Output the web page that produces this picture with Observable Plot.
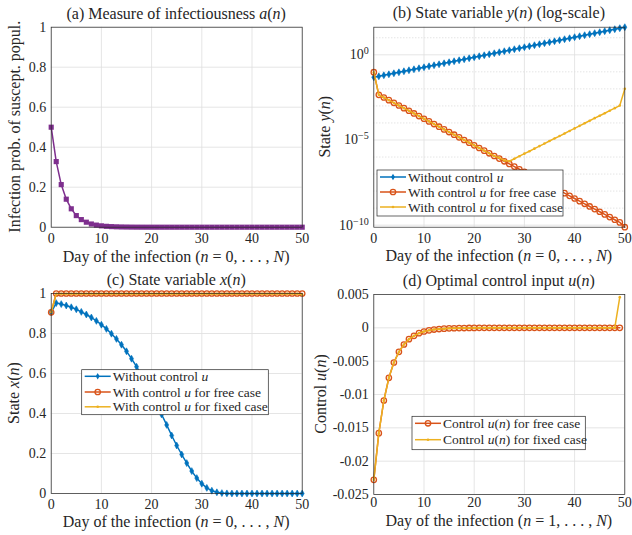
<!DOCTYPE html>
<html>
<head>
<meta charset="utf-8">
<script src="https://cdn.jsdelivr.net/npm/d3@7"></script>
<script src="https://cdn.jsdelivr.net/npm/@observablehq/plot@0.6"></script>
<style>
  body { margin: 0; background: #fff; }
  #wrap { position: relative; width: 632px; height: 535px; overflow: hidden; }
  .panel { position: absolute; }
</style>
</head>
<body>
<div id="wrap"></div>
<script>
// ---------------- data ----------------
const days = [0,1,2,3,4,5,6,7,8,9,10,11,12,13,14,15,16,17,18,19,20,21,22,23,24,25,26,27,28,29,30,31,32,33,34,35,36,37,38,39,40,41,42,43,44,45,46,47,48,49,50];

const infectiousness = [0.5,0.328,0.213,0.14,0.092,0.058,0.038,0.025,0.016,0.0105,
  0.0068,0.0044,0.0029,0.0019,0.0012,0.0008,0.0005,0.0003,0.0002,0.00013,
  0.00009,0.00006,0.00004,0.00003,0.00002,0.00001,0,0,0,0,
  0,0,0,0,0,0,0,0,0,0,
  0,0,0,0,0,0,0,0,0,0,
  0];

const yNoControl = [0.0479,0.0548,0.0628,0.0718,0.0822,0.0942,0.108,0.1236,0.1413,0.162,
  0.1854,0.212,0.243,0.278,0.318,0.365,0.418,0.478,0.547,0.627,
  0.718,0.822,0.941,1.077,1.233,1.413,1.618,1.853,2.12,2.43,
  2.78,3.18,3.65,4.17,4.78,5.47,6.26,7.17,8.21,9.40,
  10.8,12.3,14.1,16.2,18.5,21.2,24.3,27.8,31.8,36.4,
  41.7];

const yFree = [9.55e-2,4.47e-3,3.12e-3,2.18e-3,1.52e-3,1.06e-3,7.41e-4,5.18e-4,3.61e-4,2.52e-4,
  1.76e-4,1.23e-4,8.59e-5,6.00e-5,4.19e-5,2.92e-5,2.04e-5,1.43e-5,9.95e-6,6.95e-6,
  4.85e-6,3.39e-6,2.37e-6,1.65e-6,1.15e-6,8.05e-7,5.62e-7,3.93e-7,2.74e-7,1.91e-7,
  1.34e-7,9.33e-8,6.52e-8,4.55e-8,3.18e-8,2.22e-8,1.55e-8,1.08e-8,7.55e-9,5.27e-9,
  3.68e-9,2.57e-9,1.79e-9,1.25e-9,8.75e-10,6.11e-10,4.27e-10,2.98e-10,2.08e-10,1.45e-10,
  7.59e-11];

const yFixed = [9.55e-2,4.47e-3,3.12e-3,2.18e-3,1.52e-3,1.06e-3,7.41e-4,5.18e-4,3.61e-4,2.52e-4,
  1.76e-4,1.23e-4,8.59e-5,6.00e-5,4.19e-5,2.92e-5,2.04e-5,1.43e-5,9.95e-6,6.95e-6,
  4.85e-6,3.39e-6,2.37e-6,1.65e-6,1.15e-6,8.91e-7,6.31e-7,5.62e-7,7.94e-7,1.12e-6,
  1.58e-6,2.19e-6,3.09e-6,4.37e-6,6.17e-6,8.71e-6,1.23e-5,1.70e-5,2.40e-5,3.39e-5,
  4.79e-5,6.76e-5,9.55e-5,1.35e-4,1.91e-4,2.63e-4,3.72e-4,5.25e-4,7.41e-4,1.05e-3,
  1.0e-2];

const xNoControl = [0.906,0.952,0.947,0.94,0.931,0.921,0.908,0.895,0.88,0.863,
  0.844,0.823,0.799,0.773,0.744,0.711,0.674,0.634,0.591,0.545,
  0.497,0.447,0.395,0.343,0.29,0.24,0.195,0.152,0.112,0.077,
  0.049,0.028,0.014,0.006,0.002,0.0005,0,0,0,0,
  0,0,0,0,0,0,0,0,0,0,
  0];

const xFree = [0.906,1,1,1,1,1,1,1,1,1,
  1,1,1,1,1,1,1,1,1,1,
  1,1,1,1,1,1,1,1,1,1,
  1,1,1,1,1,1,1,1,1,1,
  1,1,1,1,1,1,1,1,1,1,
  1];

const xFixed = [0.906,0.999,0.999,0.999,0.999,0.999,0.999,0.999,0.999,0.999,
  0.999,0.999,0.999,0.999,0.999,0.999,0.999,0.999,0.999,0.999,
  0.999,0.999,0.999,0.999,0.999,0.999,0.999,0.999,0.999,0.999,
  0.999,0.999,0.999,0.999,0.999,0.999,0.999,0.999,0.999,0.999,
  0.999,0.999,0.999,0.999,0.999,0.999,0.999,0.999,0.999,0.999,
  0.995];

const uDays = [0,1,2,3,4,5,6,7,8,9,10,11,12,13,14,15,16,17,18,19,20,21,22,23,24,25,26,27,28,29,30,31,32,33,34,35,36,37,38,39,40,41,42,43,44,45,46,47,48,49];

const uFree = [-0.0228,-0.0158,-0.0109,-0.0075,-0.0052,-0.0036,-0.0025,-0.0017,-0.0012,-0.0008,
  -0.00055,-0.00038,-0.00026,-0.00018,-0.00012,-0.00008,-0.00006,-0.00004,-0.00003,-0.00002,
  -0.00001,0,0,0,0,0,0,0,0,0,
  0,0,0,0,0,0,0,0,0,0,
  0,0,0,0,0,0,0,0,0,0];

const uFixed = [-0.0228,-0.0158,-0.0109,-0.0075,-0.0052,-0.0036,-0.0025,-0.0017,-0.0012,-0.0008,
  -0.00055,-0.00038,-0.00026,-0.00018,-0.00012,-0.00008,-0.00006,-0.00004,-0.00003,-0.00002,
  -0.00001,0,0,0,0,0,0,0,0,0,
  0,0,0,0,0,0,0,0,0,0,
  0,0,0,0,0,0,0,0,0,0.0046];

// ticks & labels
const dayTicks = [0,10,20,30,40,50];
const unitTicks = [0,0.2,0.4,0.6,0.8,1];
const logTicks = [1e-10,1e-5,1];
const logTickLabels = ["10^\u221210","10^\u22125","10^0"];
const logMinor = [1e-9,1e-8,1e-7,1e-6,1e-4,1e-3,1e-2,1e-1,10];
const uTicks = [-0.025,-0.02,-0.015,-0.01,-0.005,0,0.005];

const titles = ["(a) Measure of infectiousness *a*(*n*)", "(b) State variable *y*(*n*) (log-scale)",
                "(c) State variable *x*(*n*)", "(d) Optimal control input *u*(*n*)"];
const xLabelA = "Day of the infection (*n* = 0, . . . , *N*)";
const xLabelD = "Day of the infection (*n* = 1, . . . , *N*)";
const yLabels = ["Infection prob. of suscept. popul.", "State *y*(*n*)", "State *x*(*n*)", "Control *u*(*n*)"];
const stateLegend = ["Without control *u*", "With control *u* for free case", "With control *u* for fixed case"];
const controlLegend = ["Control *u*(*n*) for free case", "Control *u*(*n*) for fixed case"];

// ---------------- style ----------------
const FONT = "'Liberation Serif', 'DejaVu Serif', serif";
const INK = "#262626";
const GRID = "#dedede";
const C = {purple: "#7E2F8E", blue: "#0072BD", orange: "#D95319", yellow: "#EDB120"};
const W = 316, H = 267;

// tables built from arrays
const tA = days.map((n, i) => ({n, v: infectiousness[i]}));
const tYb = days.map((n, i) => ({n, v: yNoControl[i]}));
const tYf = days.map((n, i) => ({n, v: yFree[i]}));
const tYx = days.map((n, i) => ({n, v: yFixed[i]}));
const tXb = days.map((n, i) => ({n, v: xNoControl[i]}));
const tXf = days.map((n, i) => ({n, v: xFree[i]}));
const tXx = days.map((n, i) => ({n, v: xFixed[i]}));
const tUf = uDays.map((n, i) => ({n, v: uFree[i]}));
const tUx = uDays.map((n, i) => ({n, v: uFixed[i]}));

function rich(t, str) {
  t.text(null);
  str.split("*").forEach((seg, i) => {
    if (seg) t.append("tspan").attr("font-style", i % 2 ? "italic" : null).text(seg);
  });
}

function addText(svg, x, y, str, size, rotate) {
  const t = d3.select(svg).append("text")
    .attr("x", x).attr("y", y)
    .attr("text-anchor", "middle")
    .attr("font-family", FONT).attr("font-size", size)
    .attr("fill", INK);
  if (rotate) t.attr("transform", `rotate(-90,${x},${y})`);
  rich(t, str);
}

const series = {
  blue:   {color: C.blue,   kind: "diamond"},
  orange: {color: C.orange, kind: "circle"},
  yellow: {color: C.yellow, kind: "dot"}
};

function markFor(tbl, s) {
  const out = [Plot.line(tbl, {x: "n", y: "v", stroke: s.color, strokeWidth: 1.5})];
  if (s.kind === "diamond") out.push(Plot.dot(tbl, {x: "n", y: "v", symbol: "diamond", r: 2.1, fill: s.color, stroke: s.color, strokeWidth: 0.6}));
  if (s.kind === "circle") out.push(Plot.dot(tbl, {x: "n", y: "v", symbol: "circle", r: 2.7, fill: "none", stroke: s.color, strokeWidth: 1.3}));
  if (s.kind === "dot") out.push(Plot.dot(tbl, {x: "n", y: "v", r: 1.3, fill: s.color, stroke: "none"}));
  if (s.kind === "square") out.push(Plot.dot(tbl, {x: "n", y: "v", symbol: "square", r: 2.9, fill: s.color, stroke: "none"}));
  return out;
}

function legend(svg, x, y, w, h, rows, rowYs, size) {
  const g = d3.select(svg).append("g").attr("text-anchor", "start");
  g.append("rect").attr("x", x).attr("y", y).attr("width", w).attr("height", h)
    .attr("fill", "#fff").attr("stroke", INK).attr("stroke-width", 0.7);
  rows.forEach((r, i) => {
    const yy = rowYs[i];
    g.append("line").attr("x1", x + 3).attr("x2", x + 29).attr("y1", yy).attr("y2", yy)
      .attr("stroke", r.s.color).attr("stroke-width", 1.5);
    const cx = x + 16;
    if (r.s.kind === "diamond") g.append("path").attr("d", `M${cx},${yy-3.3}L${cx+1.9},${yy}L${cx},${yy+3.3}L${cx-1.9},${yy}Z`).attr("fill", r.s.color);
    if (r.s.kind === "circle") g.append("circle").attr("cx", cx).attr("cy", yy).attr("r", 2.7).attr("fill", "none").attr("stroke", r.s.color).attr("stroke-width", 1.3);
    if (r.s.kind === "dot") g.append("circle").attr("cx", cx).attr("cy", yy).attr("r", 1.3).attr("fill", r.s.color);
    const t = g.append("text").attr("x", x + 31).attr("y", yy + 4.5)
      .attr("text-anchor", "start")
      .attr("font-family", FONT).attr("font-size", size).attr("fill", INK);
    rich(t, r.label);
  });
}

function panel({left, top, m, yScale, yTicks, yFmt, minor, marks, title, titleY, xLabel, xLabelY, yLabel, yLabelX, xPad}) {
  const [mT, mR, mB, mL] = m;
  const plot = Plot.plot({
    width: W, height: H,
    marginTop: mT, marginRight: mR, marginBottom: mB, marginLeft: mL,
    style: {fontFamily: FONT, fontSize: "14px", color: INK, background: "transparent", overflow: "visible"},
    x: {domain: [0, 50]},
    y: yScale,
    marks: [
      ...(minor ? [Plot.ruleY(minor, {stroke: "#cfcfcf", strokeDasharray: "1,2", strokeWidth: 0.8})] : []),
      Plot.gridX(dayTicks, {stroke: GRID, strokeOpacity: 1, strokeWidth: 0.8}),
      Plot.gridY(yTicks, {stroke: GRID, strokeOpacity: 1, strokeWidth: 0.8}),
      ...marks,
      Plot.frame({stroke: INK, strokeWidth: 0.7}),
      Plot.axisX(dayTicks, {tickSize: 0, tickPadding: xPad ?? 6, label: null, fontSize: 14}),
      Plot.axisY(yTicks, {tickSize: 0, tickPadding: 5, label: null, fontSize: 14, tickFormat: yFmt})
    ]
  });
  const svg = plot;
  d3.select(svg).selectAll("text").each(function () {
    const s = this.textContent;
    if (s.includes("^")) {
      const [b, e] = s.split("^");
      const t = d3.select(this); t.text(null);
      t.append("tspan").text(b);
      t.append("tspan").attr("dy", "-0.5em").attr("font-size", "0.72em").text(e);
    }
  });
  const cx = mL + (W - mL - mR) / 2;
  const cy = mT + (H - mT - mB) / 2;
  addText(svg, cx, titleY, title, 16, false);
  addText(svg, cx, xLabelY, xLabel, 16, false);
  addText(svg, yLabelX, cy, yLabel, 16, true);
  const div = document.createElement("div");
  div.className = "panel";
  div.style.left = left + "px"; div.style.top = top + "px";
  div.appendChild(plot);
  document.getElementById("wrap").appendChild(div);
  return svg;
}

const unitFmt = d => String(d);

// (a)
panel({
  left: 0, top: 0, m: [26.7, 14.3, 40.3, 50.7],
  yScale: {domain: [0, 1]}, yTicks: unitTicks, yFmt: unitFmt,
  marks: markFor(tA, {color: C.purple, kind: "square"}),
  title: titles[0], titleY: 18.5, xLabel: xLabelA, xLabelY: 262, yLabel: yLabels[0], yLabelX: 20
});

// (b)
const yAll = yNoControl.concat(yFree, yFixed);
const svgB = panel({
  left: 316, top: 0, m: [26.7, 7.7, 40.3, 57.3],
  yScale: {type: "log", domain: [d3.min(yAll), d3.max(yAll)]},
  yTicks: logTicks, yFmt: d => logTickLabels[logTicks.indexOf(d)], minor: logMinor,
  marks: [...markFor(tYb, series.blue), ...markFor(tYf, series.orange), ...markFor(tYx, series.yellow)],
  title: titles[1], titleY: 18.3, xLabel: xLabelA, xLabelY: 261, yLabel: yLabels[1], yLabelX: 14
});
legend(svgB, 61, 170, 186, 46,
  [{s: series.blue, label: stateLegend[0]}, {s: series.orange, label: stateLegend[1]}, {s: series.yellow, label: stateLegend[2]}],
  [177, 192, 207], 13.5);

// (c)
const svgC = panel({
  left: 0, top: 268, m: [25, 14.3, 42, 50.7],
  yScale: {domain: [0, 1]}, yTicks: unitTicks, yFmt: unitFmt,
  marks: [...markFor(tXb, series.blue), ...markFor(tXf, series.orange), ...markFor(tXx, series.yellow)],
  title: titles[2], titleY: 17, xLabel: xLabelA, xLabelY: 259, yLabel: yLabels[2], yLabelX: 19
});
legend(svgC, 81.7, 101.7, 186.6, 45,
  [{s: series.blue, label: stateLegend[0]}, {s: series.orange, label: stateLegend[1]}, {s: series.yellow, label: stateLegend[2]}],
  [108.3, 124, 138.8], 13.5);

// (d)
const svgD = panel({
  left: 316, top: 268, m: [26, 7.7, 41, 57.3],
  yScale: {domain: [-0.025, 0.005]}, yTicks: uTicks, yFmt: unitFmt, xPad: 3,
  marks: [...markFor(tUf, series.orange), ...markFor(tUx, series.yellow)],
  title: titles[3], titleY: 18, xLabel: xLabelD, xLabelY: 258, yLabel: yLabels[3], yLabelX: 10
});
legend(svgD, 96, 148.3, 173.3, 33.4,
  [{s: series.orange, label: controlLegend[0]}, {s: series.yellow, label: controlLegend[1]}],
  [155.3, 171.7], 13.5);
</script>
</body>
</html>
